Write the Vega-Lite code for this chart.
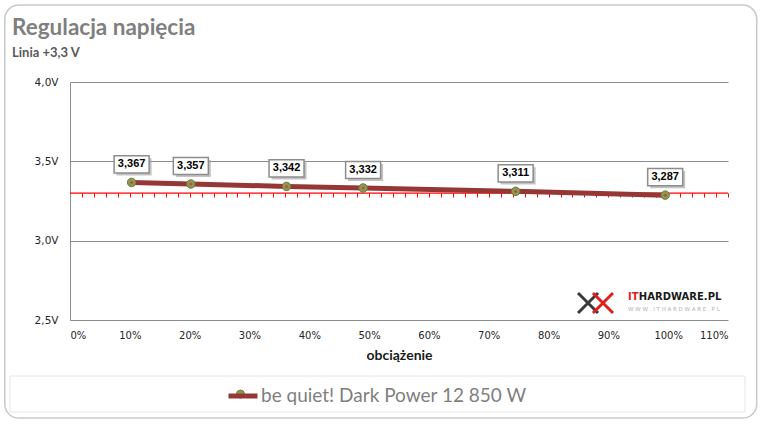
{
  "$schema": "https://vega.github.io/schema/vega-lite/v6.json",
  "width": 658,
  "height": 238,
  "autosize": {"type": "none"},
  "padding": {"left": 70, "top": 82, "right": 40, "bottom": 107},
  "background": "white",
  "config": {
    "view": {"stroke": null},
    "font": "Lato",
    "locale": {"number": {"decimal": ",", "thousands": " ", "grouping": [3], "currency": ["", " zł"]}}
  },
  "title": {
    "text": "Regulacja napięcia",
    "subtitle": "Linia +3,3 V",
    "anchor": "start",
    "frame": "group",
    "dx": -58,
    "font": "Lato",
    "fontSize": 22.5,
    "fontWeight": "bold",
    "color": "#7f7f7f",
    "subtitleFont": "Lato",
    "subtitleFontSize": 13,
    "subtitleFontWeight": "bold",
    "subtitleColor": "#595959",
    "subtitlePadding": 8,
    "offset": -56
  },
  "datasets": {
    "psu": [
      {"load": 10.3, "v": 3.367, "series": "be quiet! Dark Power 12 850 W"},
      {"load": 20.2, "v": 3.357, "series": "be quiet! Dark Power 12 850 W"},
      {"load": 36.2, "v": 3.342, "series": "be quiet! Dark Power 12 850 W"},
      {"load": 49.0, "v": 3.332, "series": "be quiet! Dark Power 12 850 W"},
      {"load": 74.5, "v": 3.311, "series": "be quiet! Dark Power 12 850 W"},
      {"load": 99.5, "v": 3.287, "series": "be quiet! Dark Power 12 850 W"}
    ]
  },
  "data": {"name": "psu"},
  "resolve": {"axis": {"x": "independent"}},
  "layer": [
    {
      "data": {"values": [{}]},
      "mark": {"type": "rect", "fill": null, "stroke": "#c9c9c9", "strokeWidth": 1.5, "cornerRadius": 14},
      "encoding": {
        "x": {"datum": -10.9, "type": "quantitative", "scale": {"domain": [0, 110], "nice": false}, "axis": null},
        "x2": {"datum": 114.8},
        "y": {"datum": 4.485, "type": "quantitative", "scale": {"domain": [2.5, 4], "nice": false, "zero": false}},
        "y2": {"datum": 1.882}
      }
    },
    {
      "data": {"values": [{}]},
      "mark": {"type": "rect", "fill": "#b5b5b5", "xOffset": 2, "yOffset": 2},
      "encoding": {
        "x": {"datum": -10.03, "type": "quantitative", "axis": null},
        "x2": {"datum": 112.84},
        "y": {"datum": 2.147, "type": "quantitative"},
        "y2": {"datum": 1.92}
      }
    },
    {
      "data": {"values": [{}]},
      "mark": {"type": "rect", "fill": "white", "stroke": "#e6e6e6", "strokeWidth": 1},
      "encoding": {
        "x": {"datum": -10.03, "type": "quantitative", "axis": null},
        "x2": {"datum": 112.84},
        "y": {"datum": 2.147, "type": "quantitative"},
        "y2": {"datum": 1.92}
      }
    },
    {
      "data": {"values": [{}]},
      "mark": {"type": "rule", "color": "#ff0000", "strokeWidth": 1.3},
      "encoding": {
        "x": {
          "datum": 0,
          "type": "quantitative",
          "axis": {"orient": "bottom", "offset": -127, "labels": false, "domain": false, "grid": false, "ticks": true, "tickColor": "#ff0000", "tickSize": 4, "tickWidth": 1, "tickCount": 55, "title": null}
        },
        "x2": {"datum": 110},
        "y": {"datum": 3.3, "type": "quantitative"}
      }
    },
    {
      "mark": {"type": "line", "strokeWidth": 5},
      "encoding": {
        "x": {
          "field": "load",
          "type": "quantitative",
          "axis": {
            "orient": "bottom",
            "values": [0, 10, 20, 30, 40, 50, 60, 70, 80, 90, 100, 110],
            "labelExpr": "datum.value + '%'",
            "ticks": false,
            "domain": false,
            "grid": false,
            "labelFont": "DejaVu Sans",
            "labelFontSize": 10,
            "labelColor": "#262626",
            "labelPadding": 10,
            "title": "obciążenie",
            "titleFont": "Lato",
            "titleFontSize": 14,
            "titleFontWeight": "bold",
            "titleColor": "#1a1a1a",
            "titlePadding": 8
          }
        },
        "y": {
          "field": "v",
          "type": "quantitative",
          "axis": {
            "values": [2.5, 3, 3.5, 4],
            "labelExpr": "format(datum.value, '.1f') + 'V'",
            "grid": true,
            "gridColor": "#8c8c8c",
            "gridWidth": 1,
            "domain": true,
            "domainColor": "#8c8c8c",
            "ticks": false,
            "labelFont": "DejaVu Sans",
            "labelFontSize": 10.5,
            "labelColor": "#262626",
            "labelPadding": 12,
            "title": null
          }
        },
        "color": {
          "field": "series",
          "type": "nominal",
          "scale": {"range": ["#953735"]},
          "legend": {
            "orient": "none",
            "legendX": 156,
            "legendY": 297,
            "title": null,
            "symbolType": "stroke",
            "symbolStrokeWidth": 5,
            "symbolSize": 841,
            "labelFont": "Lato",
            "labelFontSize": 19,
            "labelColor": "#7f7f7f",
            "labelLimit": 0,
            "labelOffset": 1,
            "padding": 0
          }
        }
      }
    },
    {
      "mark": {"type": "point", "shape": "circle", "filled": true, "fill": "#8a9a50", "stroke": "#6b7a3a", "strokeWidth": 1, "size": 72, "opacity": 1},
      "encoding": {
        "x": {"field": "load", "type": "quantitative", "axis": null},
        "y": {"field": "v", "type": "quantitative"}
      }
    },
    {
      "mark": {"type": "point", "shape": "circle", "filled": true, "fill": "#c0504d", "size": 9, "opacity": 1},
      "encoding": {
        "x": {"field": "load", "type": "quantitative", "axis": null},
        "y": {"field": "v", "type": "quantitative"}
      }
    },
    {
      "data": {"values": [{}]},
      "mark": {"type": "point", "shape": "circle", "filled": true, "fill": "#8a9a50", "stroke": "#6b7a3a", "strokeWidth": 1, "size": 64, "opacity": 1},
      "encoding": {
        "x": {"datum": 28.5, "type": "quantitative", "axis": null},
        "y": {"datum": 2.033, "type": "quantitative"}
      }
    },
    {
      "mark": {"type": "point", "shape": "M-1,-0.49H1V0.49H-1Z", "filled": true, "fill": "#9c9c9c", "opacity": 0.6, "strokeWidth": 0, "size": 1225, "xOffset": 2.5, "yOffset": -15.5},
      "encoding": {
        "x": {"field": "load", "type": "quantitative", "axis": null},
        "y": {"field": "v", "type": "quantitative"}
      }
    },
    {
      "mark": {"type": "point", "shape": "M-1,-0.49H1V0.49H-1Z", "filled": true, "fill": "white", "stroke": "#8c8c8c", "strokeWidth": 1.5, "opacity": 1, "size": 1225, "yOffset": -18},
      "encoding": {
        "x": {"field": "load", "type": "quantitative", "axis": null},
        "y": {"field": "v", "type": "quantitative"}
      }
    },
    {
      "mark": {"type": "text", "font": "Liberation Sans", "fontSize": 11, "fontWeight": "bold", "color": "#000000", "baseline": "middle", "align": "center", "yOffset": -18},
      "encoding": {
        "x": {"field": "load", "type": "quantitative", "axis": null},
        "y": {"field": "v", "type": "quantitative"},
        "text": {"field": "v", "type": "quantitative", "format": ".3f"}
      }
    },
    {
      "data": {"values": [{}]},
      "mark": {"type": "text", "text": "IT", "font": "DejaVu Sans", "fontSize": 10, "fontWeight": "bold", "color": "#e02020", "align": "left", "baseline": "middle"},
      "encoding": {
        "x": {"datum": 93.3, "type": "quantitative", "axis": null},
        "y": {"datum": 2.645, "type": "quantitative"}
      }
    },
    {
      "data": {"values": [{}]},
      "mark": {"type": "text", "text": "HARDWARE.PL", "font": "DejaVu Sans", "fontSize": 10, "fontWeight": "bold", "color": "#1a1a1a", "align": "left", "baseline": "middle"},
      "encoding": {
        "x": {"datum": 95.1, "type": "quantitative", "axis": null},
        "y": {"datum": 2.645, "type": "quantitative"}
      }
    },
    {
      "data": {"values": [{}]},
      "mark": {"type": "text", "text": "W W W . I T H A R D W A R E . P L", "font": "DejaVu Sans", "fontSize": 5.5, "color": "#b0b0b0", "align": "left", "baseline": "middle"},
      "encoding": {
        "x": {"datum": 93.3, "type": "quantitative", "axis": null},
        "y": {"datum": 2.569, "type": "quantitative"}
      }
    },
    {
      "data": {"values": [{}]},
      "mark": {"type": "point", "shape": "M-1,-1L1,1M1,-1L-1,1", "filled": false, "stroke": "#3a3a3a", "strokeWidth": 3, "size": 400, "opacity": 1},
      "encoding": {
        "x": {"datum": 86.6, "type": "quantitative", "axis": null},
        "y": {"datum": 2.607, "type": "quantitative"}
      }
    },
    {
      "data": {"values": [{}]},
      "mark": {"type": "point", "shape": "M-1,-1L1,1M1,-1L-1,1", "filled": false, "stroke": "#e02020", "strokeWidth": 3, "size": 400, "opacity": 1},
      "encoding": {
        "x": {"datum": 89.1, "type": "quantitative", "axis": null},
        "y": {"datum": 2.607, "type": "quantitative"}
      }
    }
  ]
}
